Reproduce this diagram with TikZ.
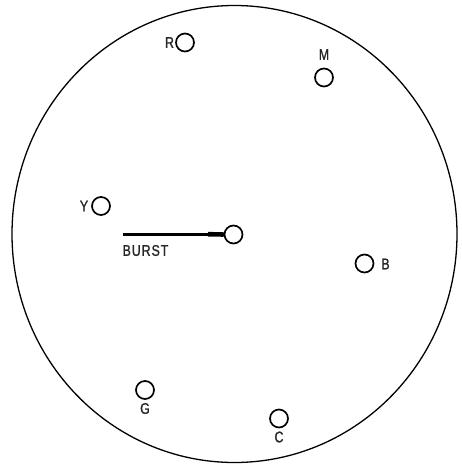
\documentclass[tikz,border=0pt]{standalone}
\usepackage{fontspec}
\newfontfamily\lblfont[FakeStretch=0.8,FakeBold=1.2]{Liberation Sans}
\usetikzlibrary{positioning,shapes.geometric}

\begin{document}
\begin{tikzpicture}[x=1pt,y=-1pt,
  dot/.style={draw,circle,line width=1.7pt,minimum size=18pt,inner sep=0pt},
  lbl/.style={font=\lblfont\fontsize{15.5}{15.5}\selectfont,inner sep=0pt,text=black!85}]
\useasboundingbox (0,0) rectangle (462,466);
\node[draw,ellipse,line width=1.3pt,minimum width=445pt,minimum height=457pt,inner sep=0pt] (screen) at (234.5,234) {};
\node[dot] (ref) at (233.5,234.5) {};
\node[dot] (r) at (185,42.5) {};
\node[dot] (m) at (324,77.5) {};
\node[dot] (y) at (101,206) {};
\node[dot] (b) at (364.5,263.5) {};
\node[dot] (g) at (145,390) {};
\node[dot] (c) at (279,418.5) {};
\node[lbl] (rlbl) at (169.5,42.5) {R};
\node[lbl] (mlbl) at (324,54.5) {M};
\node[lbl] (ylbl) at (84,206) {Y};
\node[lbl] (blbl) at (385.5,264) {B};
\node[lbl] (glbl) at (145,408.5) {G};
\node[lbl] (clbl) at (279,437) {C};
\node[lbl,font=\lblfont\addfontfeatures{LetterSpace=6}\fontsize{15.5}{15.5}\selectfont] (burstlbl) at (145.5,250.5) {BURST};
\coordinate (burst) at (123,234.5);
\coordinate (bkink) at (208,234.2);
\draw[line width=3.8pt] (burst) -- (ref.west);
\draw[line width=4.6pt] (bkink) -- (ref.west);
\end{tikzpicture}
\end{document}
